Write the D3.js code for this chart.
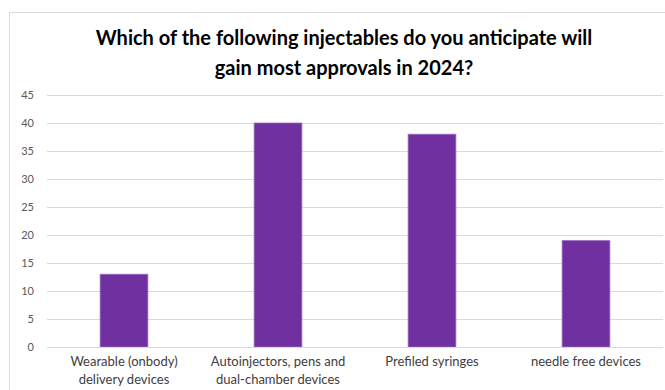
<!DOCTYPE html>
<html>
<head>
<meta charset="utf-8">
<script src="https://cdn.jsdelivr.net/npm/d3@7"></script>
<style>
  html, body { margin: 0; padding: 0; background: #fff; }
  svg { display: block; }
</style>
</head>
<body>
<svg id="chart" width="665" height="390"></svg>
<script>
// Survey responses: which injectable types will gain most approvals in 2024
const categories = [
  ["Wearable (onbody)", "delivery devices"],
  ["Autoinjectors, pens and", "dual-chamber devices"],
  ["Prefiled syringes"],
  ["needle free devices"]
];
const values = [13, 40, 38, 19];
const yTicks = [0, 5, 10, 15, 20, 25, 30, 35, 40, 45];
const titleLines = [
  "Which of the following injectables do you anticipate will",
  "gain most approvals in 2024?"
];

const svg = d3.select("#chart");
const font = "Lato, 'Open Sans', 'DejaVu Sans', sans-serif";

// chart-area frame
svg.append("rect")
  .attr("x", 9.5).attr("y", 12.5)
  .attr("width", 670).attr("height", 400)
  .attr("fill", "none").attr("stroke", "#d9d9d9").attr("stroke-width", 1);

const plot = { left: 47, right: 663, top: 95, bottom: 347 };

const x = d3.scaleBand()
  .domain(d3.range(categories.length))
  .range([plot.left, plot.right])
  .paddingInner(0.69)
  .paddingOuter(0.345);

const y = d3.scaleLinear()
  .domain([0, 45])
  .range([plot.bottom, plot.top]);

// gridlines
svg.append("g")
  .selectAll("line")
  .data(yTicks.filter(d => d > 0))
  .join("line")
  .attr("x1", plot.left).attr("x2", plot.right)
  .attr("y1", d => Math.round(y(d)) + 0.5)
  .attr("y2", d => Math.round(y(d)) + 0.5)
  .attr("stroke", "#d9d9d9").attr("stroke-width", 1);

// y axis labels
const yAxis = d3.axisLeft(y).tickValues(yTicks).tickSize(0).tickPadding(0);
const gy = svg.append("g")
  .attr("transform", `translate(${plot.left - 13},0)`)
  .call(yAxis);
gy.select(".domain").remove();
gy.selectAll("text")
  .attr("font-family", font)
  .attr("font-size", 11)
  .attr("fill", "#595959");

// bars
svg.append("g")
  .selectAll("rect")
  .data(values)
  .join("rect")
  .attr("x", (d, i) => x(i))
  .attr("y", d => y(d))
  .attr("width", x.bandwidth())
  .attr("height", d => y(0) - y(d))
  .attr("fill", "#7030a0")
  .attr("stroke", "#9a6cc0")
  .attr("stroke-width", 0.8);

// baseline axis
const xAxis = d3.axisBottom(x).tickSize(0).tickFormat("");
const gx = svg.append("g")
  .attr("transform", `translate(0,${Math.round(y(0)) + 0.5})`)
  .call(xAxis);
gx.select(".domain")
  .attr("stroke", "#d9d9d9")
  .attr("d", `M${plot.left},0H${plot.right}`);

// category labels
const labels = svg.append("g")
  .selectAll("text")
  .data(categories)
  .join("text")
  .attr("x", (d, i) => x(i) + x.bandwidth() / 2)
  .attr("y", 366)
  .attr("text-anchor", "middle")
  .attr("font-family", font)
  .attr("font-size", 13)
  .attr("fill", "#404040");
labels.selectAll("tspan")
  .data(d => d)
  .join("tspan")
  .attr("x", function () { return this.parentNode.getAttribute("x"); })
  .attr("dy", (d, i) => i === 0 ? 0 : 18)
  .text(d => d);

// title
svg.append("g")
  .selectAll("text")
  .data(titleLines)
  .join("text")
  .attr("x", 344)
  .attr("y", (d, i) => 45 + i * 30)
  .attr("text-anchor", "middle")
  .attr("font-family", font)
  .attr("font-weight", "bold")
  .attr("font-size", 20)
  .attr("fill", "#000")
  .text(d => d);
</script>
</body>
</html>
